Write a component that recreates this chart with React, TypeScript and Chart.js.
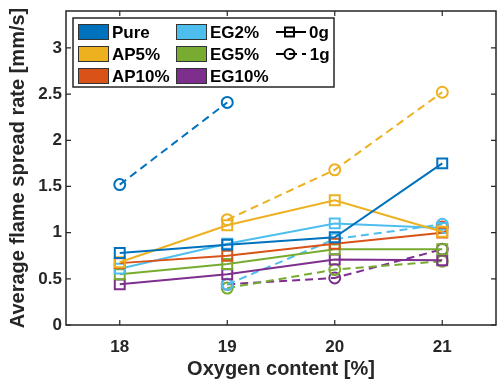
import React, { useEffect, useRef } from "react";
import { Chart, registerables } from "chart.js";

Chart.register(...registerables);

const oxygen = [18, 19, 20, 21];
const xTicks = [18, 19, 20, 21];
const yTicks = [0, 0.5, 1, 1.5, 2, 2.5, 3];

const pure0g = [0.78, 0.87, 0.95, 1.75];
const ap5_0g = [0.68, 1.08, 1.35, 1.01];
const ap10_0g = [0.67, 0.75, 0.88, 1.0];
const eg2_0g = [0.61, 0.88, 1.1, 1.05];
const eg5_0g = [0.55, 0.66, 0.82, 0.82];
const eg10_0g = [0.44, 0.55, 0.71, 0.7];

// 1g: null where no measurement
const pure1g = [1.52, 2.41, null, null];
const ap5_1g = [null, 1.14, 1.68, 2.52];
const ap10_1g = [null, null, null, 1.06];
const eg2_1g = [null, 0.44, 0.93, 1.09];
const eg5_1g = [null, 0.4, 0.6, 0.69];
const eg10_1g = [null, 0.44, 0.51, 0.82];

const names = ["Pure", "AP5%", "AP10%", "EG2%", "EG5%", "EG10%"];
const colors = ["#0072BD", "#EDB120", "#D95319", "#4DBEEE", "#77AC30", "#7E2F8E"];

const FONT = "'Liberation Sans', Arial, sans-serif";

function pts(vals: (number | null)[]) {
  const out: { x: number; y: number }[] = [];
  vals.forEach((v, i) => {
    if (v !== null) out.push({ x: oxygen[i], y: v });
  });
  return out;
}

const framePlugin = {
  id: "frame",
  afterDatasetsDraw(chart: any) {
    const { ctx, chartArea: a, scales } = chart;
    ctx.save();
    ctx.strokeStyle = "#262626";
    ctx.lineWidth = 1.5;
    ctx.strokeRect(a.left, a.top, a.right - a.left, a.bottom - a.top);
    ctx.lineWidth = 1.2;
    ctx.beginPath();
    const tl = 5;
    xTicks.forEach((t) => {
      const x = scales.x.getPixelForValue(t);
      ctx.moveTo(x, a.bottom);
      ctx.lineTo(x, a.bottom - tl);
      ctx.moveTo(x, a.top);
      ctx.lineTo(x, a.top + tl);
    });
    yTicks.forEach((t) => {
      const y = scales.y.getPixelForValue(t);
      ctx.moveTo(a.left, y);
      ctx.lineTo(a.left + tl, y);
      ctx.moveTo(a.right, y);
      ctx.lineTo(a.right - tl, y);
    });
    ctx.stroke();
    ctx.restore();
  },
};

const legendPlugin = {
  id: "customLegend",
  afterDraw(chart: any) {
    const ctx = chart.ctx;
    ctx.save();
    const bx = 73, by = 18, bw = 261, bh = 69;
    ctx.fillStyle = "#ffffff";
    ctx.fillRect(bx, by, bw, bh);
    ctx.strokeStyle = "#262626";
    ctx.lineWidth = 1.5;
    ctx.strokeRect(bx, by, bw, bh);
    const rows = [32, 54, 76];
    ctx.font = `bold 17px ${FONT}`;
    ctx.textBaseline = "middle";
    ctx.textAlign = "left";
    names.forEach((n, i) => {
      const col = Math.floor(i / 3);
      const row = i % 3;
      const px = col === 0 ? 78 : 176;
      const cy = rows[row];
      ctx.fillStyle = colors[i];
      ctx.fillRect(px, cy - 8, 31, 16);
      ctx.strokeStyle = "#333333";
      ctx.lineWidth = 1;
      ctx.strokeRect(px + 0.5, cy - 7.5, 30, 15);
      ctx.fillStyle = "#000000";
      ctx.fillText(n, px + 34, cy + 1);
    });
    ctx.strokeStyle = "#000000";
    ctx.lineWidth = 2;
    let cy = rows[0];
    ctx.beginPath();
    ctx.moveTo(276, cy);
    ctx.lineTo(306, cy);
    ctx.stroke();
    ctx.strokeRect(285, cy - 4.5, 9, 9);
    ctx.fillStyle = "#000000";
    ctx.fillText("0g", 309, cy + 1);
    cy = rows[1];
    ctx.setLineDash([8, 5]);
    ctx.beginPath();
    ctx.moveTo(276, cy);
    ctx.lineTo(306, cy);
    ctx.stroke();
    ctx.setLineDash([]);
    ctx.beginPath();
    ctx.arc(289.5, cy, 5, 0, Math.PI * 2);
    ctx.stroke();
    ctx.fillStyle = "#000000";
    ctx.fillText(" 1g", 305, cy + 1);
    ctx.restore();
  },
};

export default function App() {
  const ref = useRef<HTMLCanvasElement | null>(null);
  useEffect(() => {
    if (!ref.current) return;
    const zero = [pure0g, ap5_0g, ap10_0g, eg2_0g, eg5_0g, eg10_0g];
    const one = [pure1g, ap5_1g, ap10_1g, eg2_1g, eg5_1g, eg10_1g];
    const datasets: any[] = [];
    zero.forEach((vals, i) => {
      datasets.push({
        label: names[i] + " 0g",
        data: pts(vals),
        borderColor: colors[i],
        backgroundColor: "rgba(0,0,0,0)",
        borderWidth: 2,
        pointStyle: "rect",
        pointRadius: 7,
        pointBorderWidth: 2,
        pointBackgroundColor: "rgba(0,0,0,0)",
        pointBorderColor: colors[i],
        tension: 0,
      });
    });
    one.forEach((vals, i) => {
      datasets.push({
        label: names[i] + " 1g",
        data: pts(vals),
        borderColor: colors[i],
        backgroundColor: "rgba(0,0,0,0)",
        borderWidth: 2,
        borderDash: [8, 5],
        pointStyle: "circle",
        pointRadius: 5.5,
        pointBorderWidth: 2,
        pointBackgroundColor: "rgba(0,0,0,0)",
        pointBorderColor: colors[i],
        tension: 0,
      });
    });
    const chart = new Chart(ref.current, {
      type: "line",
      data: { datasets },
      options: {
        animation: false,
        responsive: false,
        layout: { autoPadding: false, padding: { top: 11, right: 1, left: 0, bottom: 0 } },
        plugins: { legend: { display: false }, tooltip: { enabled: false } },
        scales: {
          x: {
            type: "linear",
            min: 17.5,
            max: 21.5,
            grid: { display: false, drawTicks: false },
            border: { display: false },
            afterBuildTicks: (s: any) => {
              s.ticks = xTicks.map((v) => ({ value: v }));
            },
            afterFit: (s: any) => {
              s.height = 58;
              s.paddingLeft = 0;
              s.paddingRight = 0;
            },
            ticks: {
              color: "#262626",
              font: { family: FONT, size: 17, weight: "bold" },
              padding: 12,
              maxRotation: 0,
              callback: (v: any) => String(v),
            },
            title: {
              display: true,
              text: "Oxygen content [%]",
              color: "#262626",
              font: { family: FONT, size: 20, weight: "bold" },
              padding: { top: 0, bottom: 2 },
            },
          },
          y: {
            type: "linear",
            min: 0,
            max: 3.4,
            grid: { display: false, drawTicks: false },
            border: { display: false },
            afterBuildTicks: (s: any) => {
              s.ticks = yTicks.map((v) => ({ value: v }));
            },
            afterFit: (s: any) => {
              s.width = 66;
              s.paddingTop = 0;
              s.paddingBottom = 0;
            },
            ticks: {
              color: "#262626",
              font: { family: FONT, size: 17, weight: "bold" },
              padding: 4,
              callback: (v: any) => String(v),
            },
            title: {
              display: true,
              text: "Average flame spread rate [mm/s]",
              color: "#262626",
              font: { family: FONT, size: 20, weight: "bold" },
              padding: { top: 6, bottom: 0 },
            },
          },
        },
      },
      plugins: [framePlugin, legendPlugin],
    } as any);
    return () => chart.destroy();
  }, []);
  return (
    <div style={{ position: "absolute", left: 0, top: 0, width: 497, height: 383, background: "#fff" }}>
      <canvas ref={ref} width={497} height={383} style={{ display: "block" }} />
    </div>
  );
}
